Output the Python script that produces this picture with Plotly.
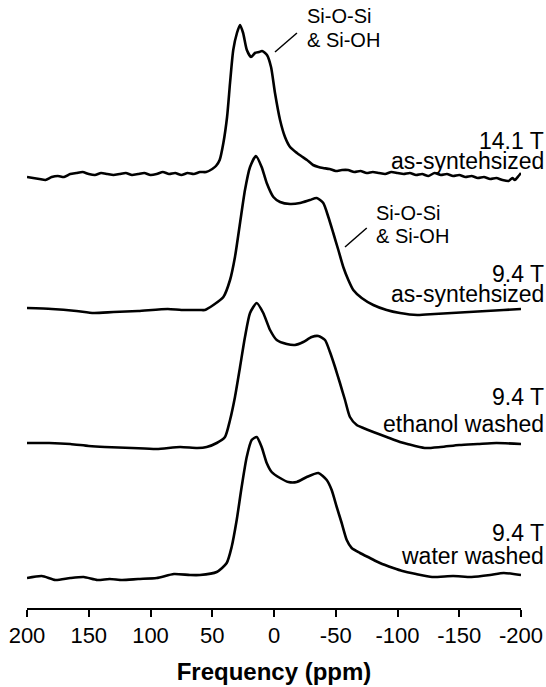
import plotly.graph_objects as go

# ---- data (ppm, intensity relative to each spectrum's own baseline) ----
ppm_141 = [200, 195, 190, 185, 180, 175, 170, 165, 160, 155, 150, 145, 140, 135, 130, 125, 120, 115, 110, 105,
           100, 95, 90, 85, 80, 75, 70, 65, 60, 55, 50, 47, 44, 41, 38, 35.6, 33, 30, 27.5, 25, 22, 18.6, 15.4,
           12, 9.7, 5.7, 2.4, -0.8, -4.9, -8.9, -13, -18.6, -22, -26.7, -31.6, -36, -39.7, -45, -50, -55, -60,
           -65, -70, -75, -80, -85, -90, -95, -100, -105, -110, -115, -120, -125, -130, -135, -140, -145, -150,
           -155, -160, -165, -170, -175, -180, -185, -190, -193, -195, -198, -200]
int_141 = [-3, -4, -5, -6, -3, -2, -3, 0, 1, 2, 0, -1, 1, 0, -1, 0, 1, -1, 0, 1,
           -1, 0, 2, 0, 1, -1, 1, 0, 2, 2, 5, 8, 14, 31, 57, 91, 124, 141, 149, 141, 124, 117, 121,
           122, 123, 119, 107, 81, 54, 37, 27, 21, 18, 14, 9, 7, 6, 5, 3, 4, 4,
           2, 3, 1, 2, 1, 0, 2, 1, 0, 1, -1, 0, -2, 1, -1, 0, -2, -1,
           -3, -2, -4, -3, -5, -4, -6, -7, -4, -6, -2, 1]

ppm_94_as = [200, 180, 160, 146, 130, 110, 86, 75, 60, 56, 49.1, 41, 35.6, 31.6, 27.5, 23.5, 19.4, 14.6, 10,
             5.9, 0.5, -4.9, -13, -21.1, -29.1, -34.6, -39.9, -44, -48, -52.1, -56.1, -60.2, -64.2, -71,
             -80.4, -91.2, -102, -116, -130, -144, -158, -172, -186, -200]
int_94_as = [2, 1, -1, -3, -2, -1, 1, 0, 0, 0, 5, 13, 30, 53, 87, 120, 143, 154, 143,
             127, 113, 108, 106, 107, 110, 112, 107, 93, 77, 60, 43, 30, 20, 12,
             5, 0, -3, -5, -4, -3, -2, -1, 0, 1]

ppm_94_eth = [200, 182, 165, 150, 137, 115, 95, 76, 62, 54.5, 46.4, 39.7, 35.6, 31.6, 27.5, 23.5, 19.4, 14,
              8.7, 3.2, -2.2, -10.3, -17, -23.7, -30.5, -35.9, -41.3, -45.3, -49.4, -53.4, -57.5, -61.5,
              -67, -72.3, -80.4, -91.2, -102, -108, -122, -135, -150, -165, -180, -200]
int_94_eth = [3, 3, 2, 0, -1, -2, -3, -1, -2, -1, 3, 9, 26, 49, 79, 109, 133, 143,
              133, 116, 106, 102, 101, 104, 109, 110, 106, 94, 79, 63, 46, 29,
              21, 18, 14, 9, 4, 2, -2, -1, 1, 2, 3, 2]

ppm_94_wat = [200, 188, 177, 165, 154, 143, 133, 123, 110, 95, 81, 68, 60, 46.4, 38.3, 34.3, 30.2, 26.2, 22.1,
              18.1, 14, 10, 5.9, 1.9, -4.9, -11.6, -18.4, -26.5, -35.9, -42.7, -46.7, -50.8, -54.8, -58.9,
              -62.9, -69.6, -77.7, -85.8, -96.6, -104, -115, -128, -145, -160, -175, -186, -200]
int_94_wat = [-2, 0, -4, -2, -1, -4, -3, -4, -3, -2, 2, 1, 1, 4, 13, 29, 56, 89, 119,
              136, 139, 129, 113, 104, 98, 94, 94, 99, 103, 96, 86, 69, 53, 36,
              28, 23, 18, 13, 8, 5, 2, -1, 0, -1, 1, 3, 1]

spectra = [
    (ppm_141, int_141, ["14.1 T", "as-syntehsized"]),
    (ppm_94_as, int_94_as, ["9.4 T", "as-syntehsized"]),
    (ppm_94_eth, int_94_eth, ["9.4 T", "ethanol washed"]),
    (ppm_94_wat, int_94_wat, ["9.4 T", "water washed"]),
]
offsets = [434, 298, 162, 32]
x_ticks = [200, 150, 100, 50, 0, -50, -100, -150, -200]

FONT = "Liberation Sans, Arial, sans-serif"

fig = go.Figure()
for (px, iy, _), off in zip(spectra, offsets):
    fig.add_trace(go.Scatter(
        x=px, y=[v + off for v in iy], mode="lines",
        line=dict(color="black", width=2.6, shape="spline", smoothing=0.6),
        showlegend=False, hoverinfo="skip"))

# sample labels (two lines each, right aligned)
label_pos = [(148, 168), (281, 301), (404, 431), (540, 563)]  # baseline pixel rows
annotations = []
for (_, _, lines), (b1, b2) in zip(spectra, label_pos):
    for txt, b in zip(lines, (b1, b2)):
        annotations.append(dict(
            x=1.051, xref="paper", y=608 - b + 7, yref="y",
            text=txt, showarrow=False, xanchor="right", yanchor="middle",
            font=dict(family=FONT, size=23, color="black")))

# Si-O-Si & Si-OH labels
peak_labels = [(-25.1, 585, 561), (-81.0, 388, 365)]
for xppm, yb1, yb2 in peak_labels:
    for txt, yb in (("Si-O-Si", yb1), ("& Si-OH", yb2)):
        annotations.append(dict(
            x=xppm, xref="x", y=yb + 7, yref="y", text=txt, showarrow=False,
            xanchor="left", yanchor="middle",
            font=dict(family=FONT, size=20, color="black")))

leaders = [((-0.8, 556), (-18.6, 575)), ((-57.5, 361), (-75.1, 380))]
shapes = [dict(type="line", xref="x", yref="y", x0=a[0], y0=a[1], x1=b[0], y1=b[1],
               line=dict(color="black", width=1.5)) for a, b in leaders]

fig.update_layout(
    width=546, height=687,
    margin=dict(l=27, r=25, t=0, b=79),
    paper_bgcolor="white", plot_bgcolor="white",
    annotations=annotations, shapes=shapes,
    xaxis=dict(range=[200, -200], tickvals=x_ticks, ticktext=[str(v) for v in x_ticks],
               ticks="outside", ticklen=7, tickwidth=2, tickcolor="black",
               showline=True, linewidth=2, linecolor="black", showgrid=False, zeroline=False,
               tickfont=dict(family=FONT, size=22, color="black"),
               title=dict(text="<b>Frequency (ppm)</b>", standoff=16,
                          font=dict(family=FONT, size=24, color="black"))),
    yaxis=dict(range=[0, 608], visible=False, fixedrange=True),
)

fig.write_html("out.html")
